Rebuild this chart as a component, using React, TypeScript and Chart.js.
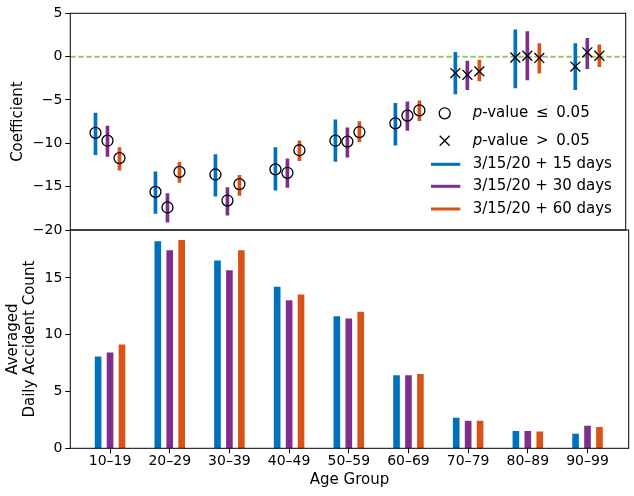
import React, { useEffect, useRef } from 'react'
import { Chart, ChartConfiguration, Plugin, registerables } from 'chart.js'

Chart.register(...registerables)
Chart.defaults.font.family = '"DejaVu Sans", sans-serif'
Chart.defaults.color = '#000'

const ageGroups = ['10–19', '20–29', '30–39', '40–49', '50–59', '60–69', '70–79', '80–89', '90–99']
const seriesLabels = ['3/15/20 + 15 days', '3/15/20 + 30 days', '3/15/20 + 60 days']
const seriesColors = ['#0072BD', '#7E2F8E', '#D95319']
const seriesOffsets = [-0.2, 0, 0.2]

// regression coefficients with confidence bounds
const coef15 = [-8.8, -15.6, -13.6, -13.0, -9.7, -7.7, -1.9, -0.1, -1.15]
const low15 = [-11.3, -18.1, -16.1, -15.4, -12.1, -10.2, -4.3, -3.6, -3.8]
const high15 = [-6.5, -13.3, -11.3, -10.5, -7.3, -5.4, 0.5, 3.1, 1.5]
const coef30 = [-9.7, -17.4, -16.6, -13.4, -9.8, -6.8, -2.1, 0.1, 0.5]
const low30 = [-11.5, -19.1, -18.3, -15.1, -11.6, -8.5, -3.8, -2.7, -1.4]
const high30 = [-8.0, -15.8, -15.1, -11.8, -8.2, -5.2, -0.5, 2.9, 2.1]
const coef60 = [-11.7, -13.3, -14.7, -10.8, -8.7, -6.2, -1.7, -0.15, 0.1]
const low60 = [-13.1, -14.5, -16.0, -12.0, -9.8, -7.4, -2.8, -1.9, -1.15]
const high60 = [-10.5, -12.2, -13.7, -9.7, -7.5, -5.1, -0.4, 1.5, 1.35]

// p-value <= 0.05 per age group
const sig15 = [true, true, true, true, true, true, false, false, false]
const sig30 = [true, true, true, true, true, true, false, false, false]
const sig60 = [true, true, true, true, true, true, false, false, false]

// averaged daily accident count
const count15 = [8.05, 18.2, 16.5, 14.2, 11.6, 6.4, 2.65, 1.5, 1.25]
const count30 = [8.4, 17.4, 15.65, 13.0, 11.4, 6.4, 2.4, 1.5, 1.95]
const count60 = [9.1, 18.3, 17.4, 13.5, 12.0, 6.5, 2.4, 1.45, 1.85]

const coefs = [coef15, coef30, coef60]
const lows = [low15, low30, low60]
const highs = [high15, high30, high60]
const sigs = [sig15, sig30, sig60]
const counts = [count15, count30, count60]

const minus = (v: number | string) => String(v).replace('-', '\u2212')

const framePlugin: Plugin = {
  id: 'frame',
  afterDraw(chart) {
    const { ctx, chartArea } = chart
    ctx.save()
    ctx.strokeStyle = '#000'
    ctx.lineWidth = 1
    ctx.strokeRect(chartArea.left, chartArea.top, chartArea.right - chartArea.left, chartArea.bottom - chartArea.top)
    ctx.restore()
  },
}

const zeroLinePlugin: Plugin = {
  id: 'zeroLine',
  beforeDatasetsDraw(chart) {
    const { ctx, chartArea, scales } = chart
    const y = scales.y.getPixelForValue(0)
    ctx.save()
    ctx.strokeStyle = '#9cc464'
    ctx.lineWidth = 2
    ctx.setLineDash([5.5, 2.5])
    ctx.beginPath()
    ctx.moveTo(chartArea.left, y)
    ctx.lineTo(chartArea.right, y)
    ctx.stroke()
    ctx.restore()
  },
}

const legendPlugin: Plugin = {
  id: 'coefLegend',
  afterDraw(chart) {
    const { ctx, chartArea } = chart
    const xLine = chartArea.right - 194.7
    const xMark = chartArea.right - 181
    const xText = chartArea.right - 153
    const rows = [100, 127.4, 151, 173, 195.7].map((d) => chartArea.top + d)
    ctx.save()
    ctx.textBaseline = 'middle'
    ctx.fillStyle = '#000'
    ctx.strokeStyle = '#000'
    ctx.lineWidth = 1.3
    ctx.beginPath()
    ctx.arc(xMark, rows[0], 5.5, 0, Math.PI * 2)
    ctx.stroke()
    const d = 5
    ctx.beginPath()
    ctx.moveTo(xMark - d, rows[1] - d)
    ctx.lineTo(xMark + d, rows[1] + d)
    ctx.moveTo(xMark - d, rows[1] + d)
    ctx.lineTo(xMark + d, rows[1] - d)
    ctx.stroke()

    const pText = (rest: string, y: number) => {
      ctx.font = 'italic 15px "DejaVu Sans"'
      ctx.fillText('p', xText, y)
      const w = ctx.measureText('p').width
      ctx.font = '15px "DejaVu Sans"'
      ctx.fillText(rest, xText + w, y)
    }
    pText('-value \u2009\u2264\u2009 0.05', rows[0])
    pText('-value \u2009>\u2009 0.05', rows[1])

    ctx.font = '15px "DejaVu Sans"'
    seriesLabels.forEach((label, s) => {
      ctx.strokeStyle = seriesColors[s]
      ctx.lineWidth = 3
      ctx.beginPath()
      ctx.moveTo(xLine, rows[s + 2])
      ctx.lineTo(xLine + 29.3, rows[s + 2])
      ctx.stroke()
      ctx.fillText(label, xText, rows[s + 2])
    })
    ctx.restore()
  },
}

const tickFont = { size: 14 }
const titleFont = { size: 15, lineHeight: 1.15 }

const topConfig: ChartConfiguration = {
  type: 'bar',
  data: {
    datasets: [
      ...seriesLabels.map((label, s) => ({
        type: 'scatter' as const,
        label,
        order: 0,
        data: ageGroups.map((_, i) => ({ x: i + seriesOffsets[s], y: coefs[s][i] })),
        pointStyle: sigs[s].map((p) => (p ? 'circle' : 'crossRot')),
        pointRadius: sigs[s].map((p) => (p ? 5.5 : 7)),
        pointBorderWidth: 1.3,
        pointBorderColor: '#000',
        pointBackgroundColor: 'rgba(0,0,0,0)',
      })),
      ...seriesLabels.map((label, s) => ({
        type: 'bar' as const,
        label,
        order: 1,
        data: ageGroups.map((_, i) => ({ x: i + seriesOffsets[s], y: [lows[s][i], highs[s][i]] })),
        backgroundColor: seriesColors[s],
        barThickness: 3,
        grouped: false,
      })),
    ] as any,
  },
  options: {
    responsive: false,
    animation: false,
    layout: { padding: { top: 13.3, bottom: 15, left: 0, right: 5.3 } },
    scales: {
      x: { type: 'linear', min: -0.62, max: 8.64, offset: false, display: false },
      y: {
        type: 'linear',
        min: -20,
        max: 5,
        ticks: { stepSize: 5, font: tickFont, padding: 3, callback: (v) => minus(v) },
        grid: { drawOnChartArea: false, tickLength: 5, color: '#000' },
        border: { display: false },
        title: { display: true, text: 'Coefficient', font: titleFont, padding: { top: 9.7, bottom: 0 } },
        afterFit: (s) => {
          s.width = 70.3
        },
      },
    },
    plugins: { legend: { display: false }, tooltip: { enabled: false } },
  },
  plugins: [zeroLinePlugin, framePlugin, legendPlugin],
}

const countMax = Math.max(...count15, ...count30, ...count60) * 1.05

const bottomConfig: ChartConfiguration = {
  type: 'bar',
  data: {
    datasets: seriesLabels.map((label, s) => ({
      label,
      data: ageGroups.map((_, i) => ({ x: i + seriesOffsets[s], y: counts[s][i] })),
      backgroundColor: seriesColors[s],
      barThickness: 6,
      grouped: false,
    })) as any,
  },
  options: {
    responsive: false,
    animation: false,
    layout: { padding: { top: 15, bottom: 0, left: 0, right: 5.3 } },
    scales: {
      x: {
        type: 'linear',
        min: -0.666,
        max: 8.69,
        offset: false,
        afterBuildTicks: (s) => {
          s.ticks = ageGroups.map((_, i) => ({ value: i }))
        },
        ticks: {
          font: tickFont,
          padding: 0,
          autoSkip: false,
          maxRotation: 0,
          callback: (v) => ageGroups[Number(v)],
        },
        grid: { drawOnChartArea: false, offset: false, tickLength: 5, color: '#000' },
        border: { display: false },
        title: { display: true, text: 'Age Group', font: titleFont, padding: { top: 0, bottom: 7 } },
        afterFit: (s) => {
          s.height = 47.7
        },
      },
      y: {
        type: 'linear',
        min: 0,
        max: countMax,
        ticks: { stepSize: 5, includeBounds: false, font: tickFont, padding: 3 },
        grid: { drawOnChartArea: false, tickLength: 5, color: '#000' },
        border: { display: false },
        title: {
          display: true,
          text: ['Averaged', 'Daily Accident Count'],
          font: titleFont,
          padding: { top: 4, bottom: 0 },
        },
        afterFit: (s) => {
          s.width = 70.3
        },
      },
    },
    plugins: { legend: { display: false }, tooltip: { enabled: false } },
  },
  plugins: [framePlugin],
}

const App = () => {
  const topRef = useRef<HTMLCanvasElement>(null)
  const bottomRef = useRef<HTMLCanvasElement>(null)

  useEffect(() => {
    const top = new Chart(topRef.current!, topConfig)
    const bottom = new Chart(bottomRef.current!, bottomConfig)
    return () => {
      top.destroy()
      bottom.destroy()
    }
  }, [])

  return (
    <div style={{ position: 'absolute', left: 0, top: 0, width: 634, height: 496, background: '#fff' }}>
      <canvas ref={topRef} width={634} height={245} style={{ position: 'absolute', left: 0, top: 0 }} />
      <canvas ref={bottomRef} width={634} height={281} style={{ position: 'absolute', left: 0, top: 215 }} />
    </div>
  )
}

export default App
